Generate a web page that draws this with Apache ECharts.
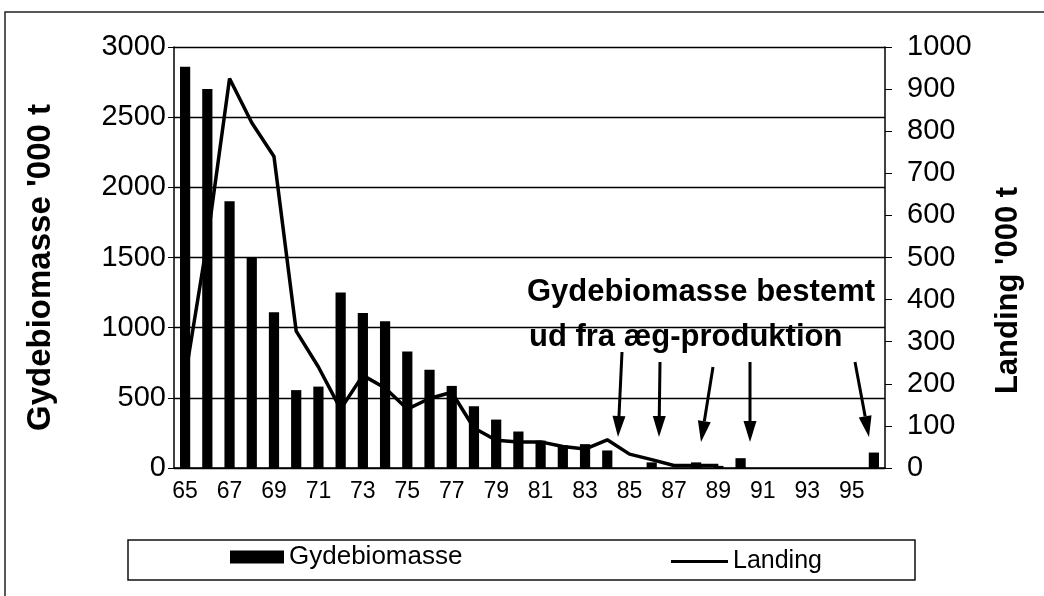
<!DOCTYPE html>
<html>
<head>
<meta charset="utf-8">
<title>Gydebiomasse og landing</title>
<script src="https://cdn.jsdelivr.net/npm/echarts@6/dist/echarts.min.js"></script>
<style>
    html, body { margin: 0; padding: 0; background: #fff; }
    #chart { width: 1044px; height: 596px; }
</style>
</head>
<body>
<div id="chart"></div>
<script>
// data
const years = ['65', '66', '67', '68', '69', '70', '71', '72', '73', '74', '75', '76', '77', '78', '79', '80',
    '81', '82', '83', '84', '85', '86', '87', '88', '89', '90', '91', '92', '93', '94', '95', '96']
const gydebiomasse = [2860, 2700, 1900, 1500, 1110, 555, 580, 1250, 1105, 1045, 830, 700, 585, 440, 345, 260,
    195, 160, 170, 125, null, 40, null, 40, 15, 70, null, null, null, null, null, 110]
const landing = [215, 540, 925, 820, 740, 325, 240, 140, 220, 190, 140, 165, 180, 95, 66, 62,
    62, 51, 45, 67, 33, 20, 6, 6, 6, null, null, null, null, null, null, null]

// annotation: text lines and arrows (start -> tip, pixels)
const noteLines = ['Gydebiomasse bestemt', 'ud fra æg-produktion']
const arrows = [
    [[622, 352], [618, 437]],
    [[660, 362], [659, 437]],
    [[713, 367], [701, 442]],
    [[750, 362], [750, 442]],
    [[855, 362], [869, 437]]
]

const FONT = '"Liberation Sans", Arial, sans-serif'

function arrowGraphics(from, to) {
    const dx = to[0] - from[0]
    const dy = to[1] - from[1]
    const len = Math.sqrt(dx * dx + dy * dy)
    const ux = dx / len, uy = dy / len
    const headLen = 21, headHalf = 6.5
    const bx = to[0] - ux * headLen, by = to[1] - uy * headLen
    return [
        {
            type: 'line', silent: true,
            shape: { x1: from[0], y1: from[1], x2: bx, y2: by },
            style: { stroke: '#000', lineWidth: 3 }
        },
        {
            type: 'polygon', silent: true,
            shape: { points: [to, [bx - uy * headHalf, by + ux * headHalf], [bx + uy * headHalf, by - ux * headHalf]] },
            style: { fill: '#000' }
        }
    ]
}

const graphics = [
    // outer frame (only top and left edges are visible in the scan)
    {
        type: 'rect', silent: true, z: -1,
        shape: { x: 5, y: 12, width: 1100, height: 700 },
        style: { fill: 'none', stroke: '#222', lineWidth: 1.5 }
    },
    // legend box
    {
        type: 'rect', silent: true,
        shape: { x: 128, y: 540, width: 787, height: 40 },
        style: { fill: 'none', stroke: '#111', lineWidth: 1.5 }
    },
    {
        type: 'text', silent: true, z: 10, left: 527, top: 277,
        style: { text: noteLines[0], font: 'bold 31px ' + FONT, fill: '#000' }
    },
    {
        type: 'text', silent: true, z: 10, left: 529, top: 322,
        style: { text: noteLines[1], font: 'bold 31px ' + FONT, fill: '#000' }
    }
]
arrows.forEach(a => graphics.push(...arrowGraphics(a[0], a[1])))

const chart = echarts.init(document.getElementById('chart'))

const option = {
    animation: false,
    backgroundColor: '#fff',
    textStyle: { fontFamily: FONT },
    grid: { left: 174, right: 159, top: 47, bottom: 128 },
    legend: [
        {
            data: ['Gydebiomasse'], selectedMode: false, left: 230, top: 544, padding: 0,
            icon: 'rect', itemWidth: 54, itemHeight: 13,
            textStyle: { fontSize: 26, color: '#000', fontFamily: FONT }
        },
        {
            data: ['Landing'], selectedMode: false, left: 671, top: 549, padding: 0,
            icon: 'rect', itemWidth: 57, itemHeight: 3, itemGap: 0,
            textStyle: { fontSize: 25, color: '#000', fontFamily: FONT, padding: [0, 0, 14, 0] }
        }
    ],
    xAxis: {
        type: 'category',
        data: years,
        boundaryGap: true,
        axisLine: { lineStyle: { color: '#000', width: 1.5 } },
        axisTick: { interval: 0, length: 6, lineStyle: { color: '#000' } },
        axisLabel: { interval: 1, fontSize: 23, color: '#000', margin: 12 }
    },
    yAxis: [
        {
            type: 'value', min: 0, max: 3000, interval: 500,
            name: "Gydebiomasse '000 t", nameLocation: 'middle', nameGap: 117,
            nameTextStyle: { fontSize: 33, fontWeight: 'bold', color: '#000', padding: [0, 20, 0, 0] },
            axisLine: { show: true, lineStyle: { color: '#000', width: 1.5 } },
            axisTick: { show: true, length: 6, lineStyle: { color: '#000' } },
            axisLabel: { fontSize: 29, color: '#000', margin: 8, formatter: v => String(v) },
            splitLine: { show: true, lineStyle: { color: '#000', width: 1.4 } }
        },
        {
            type: 'value', min: 0, max: 1000, interval: 100,
            name: "Landing '000 t", nameLocation: 'middle', nameGap: 108,
            nameTextStyle: { fontSize: 31, fontWeight: 'bold', color: '#000', padding: [0, 66, 0, 0] },
            axisLine: { show: true, lineStyle: { color: '#000', width: 1.5 } },
            axisTick: { show: true, length: 7, lineStyle: { color: '#000' } },
            axisLabel: { fontSize: 29, color: '#000', margin: 22, formatter: v => String(v) },
            splitLine: { show: false }
        }
    ],
    series: [
        {
            name: 'Gydebiomasse',
            type: 'bar',
            yAxisIndex: 0,
            data: gydebiomasse,
            barWidth: '46%',
            itemStyle: { color: '#000' }
        },
        {
            name: 'Landing',
            type: 'line',
            yAxisIndex: 1,
            data: landing,
            symbol: 'none',
            connectNulls: false,
            lineStyle: { color: '#000', width: 3.5 },
            itemStyle: { color: '#000' }
        }
    ],
    graphic: graphics
}

chart.setOption(option)
window.addEventListener('resize', () => chart.resize())
</script>
</body>
</html>
